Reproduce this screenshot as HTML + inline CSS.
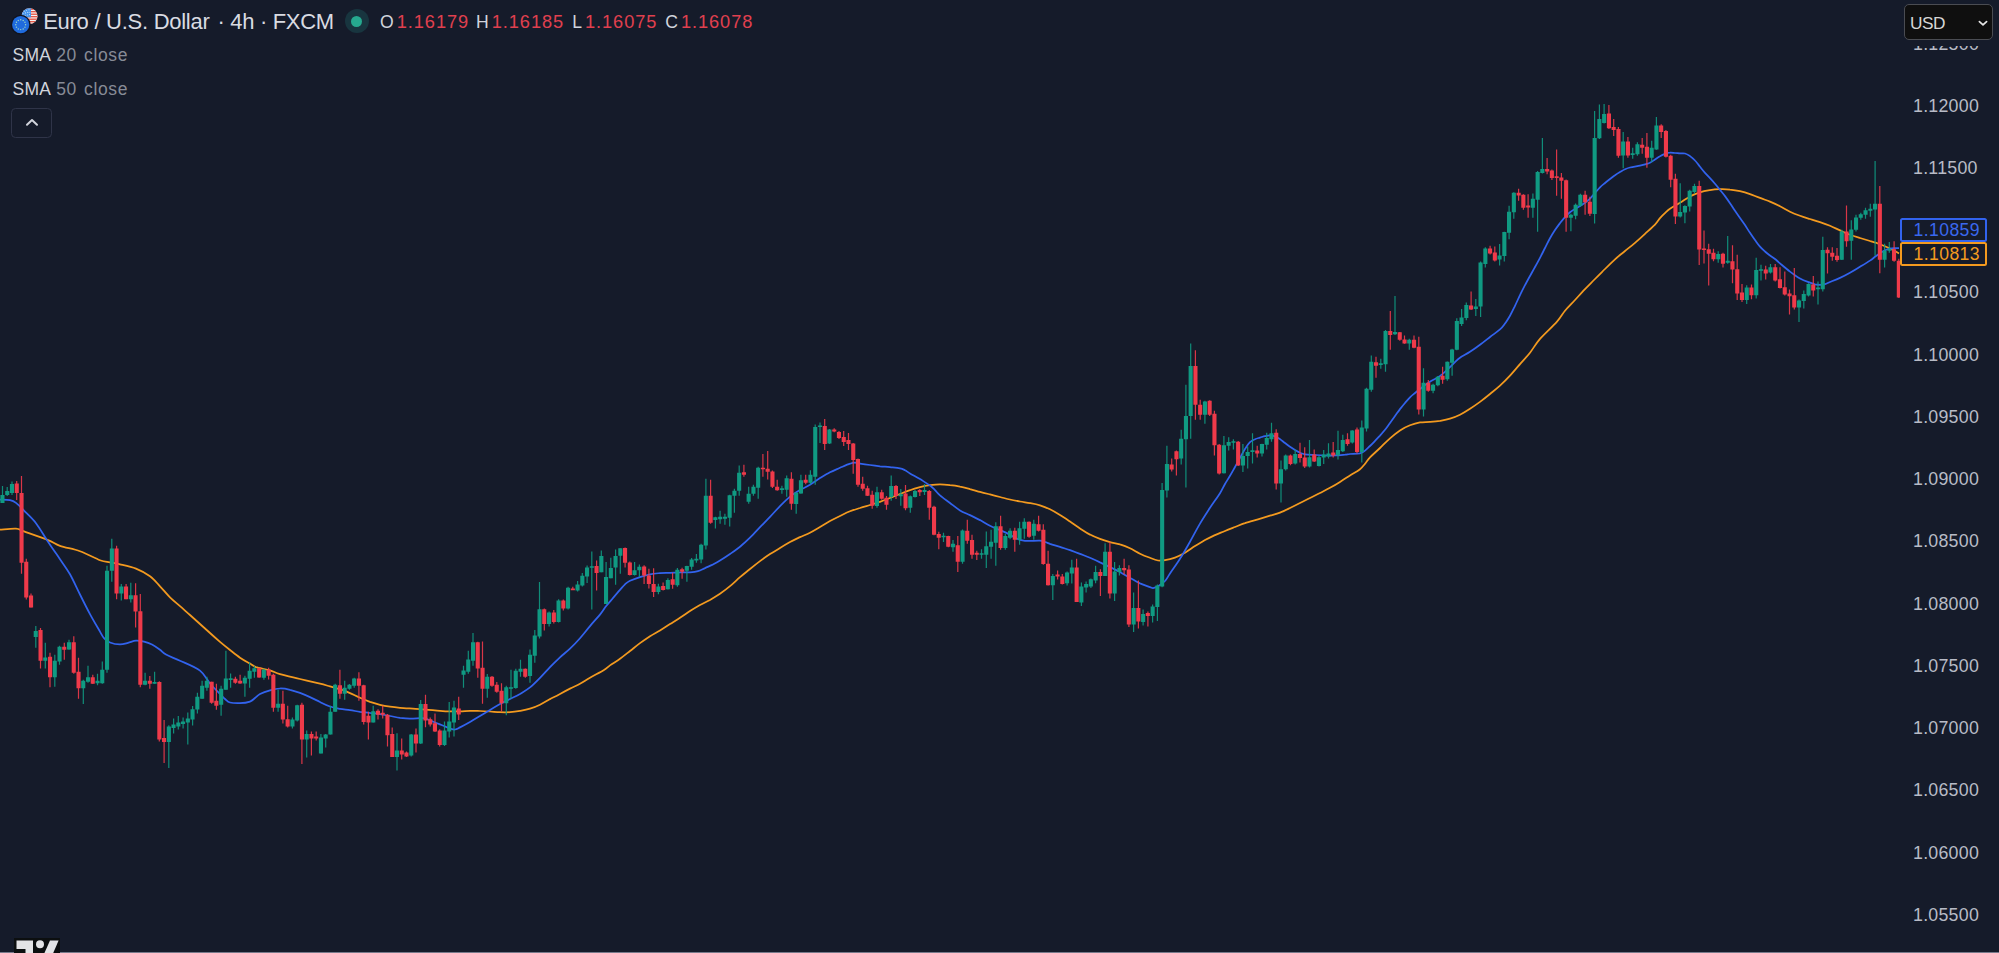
<!DOCTYPE html>
<html lang="en">
<head>
<meta charset="utf-8">
<title>Euro / U.S. Dollar · 4h · FXCM</title>
<style>
*{box-sizing:border-box;margin:0;padding:0}
html,body{width:1999px;height:953px;overflow:hidden;background:#151b2a}
body{position:relative;font-family:"Liberation Sans",Arial,sans-serif;color:#d1d4dc}
.chart{position:absolute;left:0;top:0}
.axis{position:absolute;left:1900px;top:45.6px;width:99px;height:908px;overflow:hidden}
.pl{position:absolute;left:1913px;height:24px;line-height:24px;font-size:17.8px;letter-spacing:.25px;color:#b8bbc6;white-space:nowrap}
.axis .pl{left:13px}
.tag{position:absolute;left:1900px;width:87px;height:24px;border:2px solid;border-radius:2.5px;background:#151b2a;font-size:17.6px;letter-spacing:.4px;line-height:21.4px;padding-left:11.6px;white-space:nowrap}
.tag.b{top:217.5px;border-color:#3263ee;color:#3a68ee}
.tag.o{top:242px;border-color:#f39a1f;color:#f39a1f}
.usd{position:absolute;left:1904px;top:4px;width:89px;height:36px;border:1.5px solid #4a4c52;border-radius:5px;background:#0f0f0f;color:#d6d6d6;font-size:17.3px;line-height:37.4px;padding-left:5px;letter-spacing:-.55px}
.usd svg{position:absolute;left:73px;top:14.7px}
.title{position:absolute;left:43.2px;top:8.6px;height:26px;line-height:26px;font-size:22px;color:#d9dbe2;white-space:nowrap;letter-spacing:-.27px}
.title span{margin-left:2.3px;letter-spacing:-.33px}
.ohlc{position:absolute;top:10px;height:24px;line-height:24px;font-size:18.2px;white-space:nowrap;letter-spacing:.95px;color:#e0404f}
.ohlc b{font-weight:normal;color:#d1d4dc;letter-spacing:3px;font-size:17.6px}
.lg{position:absolute;left:12.5px;height:24px;line-height:24px;font-size:17.5px;white-space:nowrap;color:#878b96;letter-spacing:.62px;word-spacing:1.6px}
.lg span{margin-left:-2px}
.lg b{font-weight:normal;color:#d1d4dc;letter-spacing:.25px;word-spacing:0}
.btn{position:absolute;left:11px;top:108px;width:40.5px;height:29.5px;border:1.5px solid #2f3448;border-radius:4.5px}
.btn svg{position:absolute;left:12.5px;top:8.5px}
.dot{position:absolute;left:344.8px;top:9px;width:24px;height:24px;border-radius:50%;background:#18353f}
.dot i{position:absolute;left:6.5px;top:6.5px;width:11px;height:11px;border-radius:50%;background:#26a98f}
.logo{z-index:3;position:absolute;left:14px;top:937.5px;width:46px;height:16px;background:#0c0f10}
.bline{position:absolute;left:0;top:951.5px;width:1999px;height:1.5px;background:#777a8b}
</style>
</head>
<body>
<svg class="chart" width="1900" height="953" viewBox="0 0 1900 953">
<path fill="none" stroke="#f39a1f" stroke-width="1.75" stroke-linejoin="round" d="M-3 530C-2.5 530 -3.2 529.9 0 529.7C3.2 529.5 12 528.3 16 528.6C20 528.9 18.7 529.4 24 531.4C29.3 533.3 42 537.7 48 540.1C54 542.5 54.7 544 60 545.8C65.3 547.7 73.3 548.8 80 551.2C86.7 553.6 95 558.3 100 560.2C105 562 106.7 561.6 110 562.3C113.3 563 115.7 563.2 120 564.3C124.3 565.3 131 566.6 136 568.6C141 570.6 146 573.3 150 576.3C154 579.2 156.7 582.8 160 586.3C163.3 589.8 166.7 594.1 170 597.4C173.3 600.7 176.7 603.2 180 606.1C183.3 609.1 186.7 612 190 615C193.3 618 196.7 621 200 624C203.3 627 206.7 630 210 633C213.3 636 216.7 639 220 641.9C223.3 644.7 226.7 647.4 230 650C233.3 652.6 236.7 655.4 240 657.7C243.3 660 247.3 662 250 663.5C252.7 665.1 252.7 665.9 256 667.1C259.3 668.2 266 669.2 270 670.4C274 671.6 275 672.8 280 674.2C285 675.6 293.3 677.4 300 679C306.7 680.6 315 682.4 320 683.6C325 684.8 326.7 685.5 330 686.4C333.3 687.4 336.7 688.1 340 689.2C343.3 690.3 346.7 691.7 350 693.1C353.3 694.6 356.7 696.4 360 697.8C363.3 699.3 366.7 700.7 370 701.9C373.3 703 376.7 704 380 704.8C383.3 705.6 386.7 706.2 390 706.7C393.3 707.2 395 707.4 400 707.8C405 708.2 413.3 708.6 420 709.1C426.7 709.6 435 710.4 440 710.8C445 711.2 446.7 711.3 450 711.4C453.3 711.5 456.7 711.5 460 711.4C463.3 711.3 466.7 710.9 470 710.8C473.3 710.7 476.7 710.9 480 711C483.3 711.1 486.7 711.3 490 711.5C493.3 711.7 496.7 712.1 500 712.2C503.3 712.4 506.7 712.4 510 712.2C513.3 712 516.7 711.5 520 710.9C523.3 710.3 526.7 709.7 530 708.7C533.3 707.7 536.7 706.3 540 704.7C543.3 703.1 546.7 700.9 550 699.1C553.3 697.4 556.7 695.7 560 693.9C563.3 692.1 566.7 690.3 570 688.6C573.3 686.9 576.7 685.6 580 683.8C583.3 682 586 680.1 590 677.8C594 675.5 600.7 672 604 670C607.3 667.9 607.3 667.3 610 665.4C612.7 663.5 616.7 661.2 620 658.8C623.3 656.4 626.7 653.6 630 651C633.3 648.4 636.7 645.6 640 643.1C643.3 640.7 646.7 638.4 650 636.2C653.3 634.1 656.7 632.4 660 630.4C663.3 628.3 666.7 626.2 670 624.1C673.3 622 676.7 620 680 617.8C683.3 615.7 686.7 613.3 690 611.1C693.3 609 696.7 607 700 605.1C703.3 603.3 706.7 601.7 710 599.9C713.3 598 716.7 596 720 593.8C723.3 591.5 726.7 589 730 586.2C733.3 583.4 736.7 580.1 740 577.2C743.3 574.4 746.7 571.7 750 569C753.3 566.3 756.7 563.6 760 561.1C763.3 558.7 766.7 556.3 770 554.1C773.3 552 776.7 550 780 548C783.3 546 786.7 544 790 542.1C793.3 540.3 796.7 538.7 800 537.1C803.3 535.6 806.7 534.4 810 532.7C813.3 531 816.7 528.9 820 527C823.3 525.1 826.7 523 830 521.1C833.3 519.3 836.7 517.6 840 516C843.3 514.4 846.7 512.6 850 511.3C853.3 510 856.7 509 860 508C863.3 506.9 866.7 506 870 505C873.3 504 876.7 503 880 501.8C883.3 500.7 886.7 499.3 890 498C893.3 496.7 896.7 495.3 900 494C903.3 492.7 906.7 491.3 910 490.2C913.3 489 916.7 488 920 487.1C923.3 486.3 926.7 485.6 930 485.1C933.3 484.7 936.7 484.3 940 484.3C943.3 484.3 946.7 484.7 950 485.1C953.3 485.4 956.7 485.9 960 486.6C963.3 487.2 966.7 488.2 970 489.1C973.3 489.9 976.7 491 980 491.9C983.3 492.8 986.7 493.6 990 494.4C993.3 495.3 996.7 496.2 1000 497C1003.3 497.8 1006.7 498.8 1010 499.5C1013.3 500.3 1016.7 500.9 1020 501.5C1023.3 502.1 1026.7 502.5 1030 503.1C1033.3 503.7 1036.7 504.3 1040 505.3C1043.3 506.3 1046.7 507.7 1050 509.3C1053.3 510.9 1056.7 513 1060 515.1C1063.3 517.1 1066.7 519.4 1070 521.6C1073.3 523.8 1076.7 526.2 1080 528.4C1083.3 530.5 1086.7 532.9 1090 534.6C1093.3 536.4 1096.7 537.7 1100 538.9C1103.3 540.2 1106.7 541.2 1110 542.1C1113.3 543 1116.7 543.3 1120 544.4C1123.3 545.4 1126.7 546.7 1130 548.3C1133.3 549.9 1136.7 552.1 1140 553.7C1143.3 555.3 1147 556.7 1150 557.8C1153 559 1155.5 560.1 1158 560.5C1160.5 560.8 1162.2 560.6 1165 560.1C1167.8 559.7 1171.7 558.8 1175 557.6C1178.3 556.4 1181.7 554.6 1185 552.7C1188.3 550.8 1191.7 548.2 1195 546.1C1198.3 544.1 1201.7 542 1205 540.1C1208.3 538.3 1211.7 536.7 1215 535.1C1218.3 533.6 1221.7 532.4 1225 531C1228.3 529.6 1231.7 528.3 1235 527C1238.3 525.7 1241.2 524.3 1245 523.1C1248.8 521.8 1253.8 520.6 1258 519.4C1262.2 518.2 1266.3 516.9 1270 515.7C1273.7 514.6 1276.7 513.9 1280 512.6C1283.3 511.3 1286.7 509.6 1290 508C1293.3 506.4 1296.7 504.7 1300 503C1303.3 501.3 1306.7 499.7 1310 498C1313.3 496.3 1316.7 494.7 1320 493C1323.3 491.3 1326.7 489.7 1330 487.8C1333.3 486 1336.7 484 1340 481.9C1343.3 479.9 1346.7 477.6 1350 475.5C1353.3 473.4 1357.5 471.2 1360 469.2C1362.5 467.3 1363.3 465.8 1365 463.8C1366.7 461.9 1367.5 460 1370 457.4C1372.5 454.8 1376.7 451.2 1380 448C1383.3 444.8 1386.7 441.2 1390 438.3C1393.3 435.4 1396.7 432.6 1400 430.4C1403.3 428.3 1406.7 426.6 1410 425.3C1413.3 424 1416.7 423 1420 422.4C1423.3 421.9 1426.7 422.1 1430 421.8C1433.3 421.6 1436.7 421.4 1440 420.9C1443.3 420.3 1446.7 419.7 1450 418.7C1453.3 417.7 1456.7 416.3 1460 414.7C1463.3 413.1 1466.7 411 1470 408.8C1473.3 406.7 1476.7 404.3 1480 401.9C1483.3 399.4 1486.7 396.7 1490 394C1493.3 391.3 1496.7 388.7 1500 385.7C1503.3 382.6 1506.7 379.3 1510 375.7C1513.3 372.1 1516.7 368 1520 364.1C1523.3 360.3 1526.7 356.9 1530 352.7C1533.3 348.5 1535.5 344.1 1540 338.9C1544.5 333.8 1552.8 326.4 1557 321.6C1561.2 316.9 1562 314.3 1565 310.7C1568 307.1 1571.7 303.6 1575 300C1578.3 296.4 1581.7 292.6 1585 289.1C1588.3 285.6 1591.7 282.4 1595 279C1598.3 275.6 1601.7 272.3 1605 269C1608.3 265.7 1611.7 262.3 1615 259.3C1618.3 256.3 1621.7 253.7 1625 251C1628.3 248.3 1631.7 245.7 1635 242.8C1638.3 240 1641.7 236.9 1645 233.8C1648.3 230.8 1652.5 227.2 1655 224.6C1657.5 222 1658.3 220.1 1660 218.1C1661.7 216.2 1663.3 214.7 1665 213.1C1666.7 211.6 1667.5 210.4 1670 208.7C1672.5 207 1676.7 204.9 1680 202.8C1683.3 200.8 1686.7 198.2 1690 196.4C1693.3 194.7 1696.7 193.3 1700 192.3C1703.3 191.2 1706.7 190.7 1710 190.2C1713.3 189.6 1716.7 189.3 1720 189.2C1723.3 189.1 1726.7 189.2 1730 189.6C1733.3 189.9 1736.7 190.4 1740 191.2C1743.3 192 1746.7 193 1750 194.1C1753.3 195.3 1756.7 196.7 1760 197.9C1763.3 199.2 1766.7 200.3 1770 201.6C1773.3 203 1776.7 204.5 1780 206.2C1783.3 207.9 1786.7 210.1 1790 211.7C1793.3 213.3 1796.7 214.6 1800 215.8C1803.3 217.1 1806.7 218 1810 219C1813.3 220 1816.7 221 1820 222.1C1823.3 223.2 1826.7 224.4 1830 225.8C1833.3 227.2 1836.7 228.9 1840 230.4C1843.3 231.9 1846.7 233.5 1850 234.8C1853.3 236 1856.7 237 1860 238C1863.3 239 1866.7 240 1870 241C1873.3 242 1876.7 243 1880 244.2C1883.3 245.5 1886.8 247 1890 248.5C1893.2 250 1897.5 252.6 1899 253.4"/>
<path fill="none" stroke="#3263ee" stroke-width="1.75" stroke-linejoin="round" d="M-3 499.5C-2.5 499.5 -2.2 499.5 0 499.6C2.2 499.7 7.3 499.7 10 500.2C12.7 500.8 13.7 501.2 16 502.9C18.3 504.6 20.7 507.2 24 510.6C27.3 514 32 518 36 523.2C40 528.4 44 535.7 48 541.7C52 547.7 56.3 553.8 60 559.2C63.7 564.7 66.7 568.5 70 574.3C73.3 580.2 76.7 587.9 80 594.5C83.3 601.2 86.7 608 90 614.1C93.3 620.3 97.7 627.6 100 631.6C102.3 635.6 102.3 636.3 104 638.1C105.7 640 107.3 641.5 110 642.5C112.7 643.6 117 644.4 120 644.4C123 644.4 125.3 643.5 128 642.8C130.7 642.2 133.3 640.9 136 640.7C138.7 640.5 141.3 641 144 641.6C146.7 642.3 149.3 643.2 152 644.5C154.7 645.9 157.7 648.1 160 649.8C162.3 651.5 162.7 652.8 166 654.6C169.3 656.5 174.3 658 180 660.7C185.7 663.3 195 666.8 200 670.6C205 674.4 206.7 679.7 210 683.5C213.3 687.4 217.5 691.4 220 693.9C222.5 696.5 223.3 697.6 225 699C226.7 700.4 227.5 701.8 230 702.5C232.5 703.2 236.7 703.3 240 703.2C243.3 703.1 247.5 702.5 250 701.6C252.5 700.8 253.3 699.3 255 698C256.7 696.7 257.5 695.3 260 694C262.5 692.7 266.7 691.2 270 690.3C273.3 689.4 276.7 688.6 280 688.5C283.3 688.4 286.7 689 290 689.8C293.3 690.5 296.7 691.7 300 692.9C303.3 694.2 306.7 695.6 310 697.1C313.3 698.6 316.7 700.4 320 702C323.3 703.6 326.7 705.4 330 706.5C333.3 707.7 336.7 708.2 340 708.8C343.3 709.4 346.7 709.6 350 710.1C353.3 710.6 356.7 711.4 360 711.9C363.3 712.3 366.7 712.6 370 713C373.3 713.4 376.7 713.6 380 714.1C383.3 714.6 386.7 715.4 390 716C393.3 716.6 396.7 717.4 400 717.9C403.3 718.3 406.7 718.7 410 718.7C413.3 718.8 417.5 718.2 420 718.1C422.5 718.1 423.3 717.9 425 718.3C426.7 718.7 427.5 719.3 430 720.4C432.5 721.4 436.7 723.1 440 724.4C443.3 725.8 447.5 727.6 450 728.5C452.5 729.3 453.3 729.7 455 729.5C456.7 729.4 457.5 728.7 460 727.4C462.5 726.1 466.7 723.9 470 722C473.3 720.1 476.7 718 480 716C483.3 714 486.7 712 490 710C493.3 708 496.7 706 500 704.1C503.3 702.3 506.7 700.7 510 699C513.3 697.3 516.7 695.8 520 693.9C523.3 691.9 526.7 690.1 530 687.4C533.3 684.7 536.7 681.2 540 677.8C543.3 674.5 546.7 670.6 550 667.1C553.3 663.7 556.7 660.4 560 657.3C563.3 654.2 566.7 651.8 570 648.6C573.3 645.4 576.7 642 580 638.2C583.3 634.4 586.7 630 590 626.1C593.3 622.1 597.3 617.9 600 614.6C602.7 611.3 604 608.9 606 606.3C608 603.7 609.7 602 612 599.2C614.3 596.5 617.8 592.4 620 589.9C622.2 587.4 623.3 585.8 625 584.3C626.7 582.8 627.5 582 630 580.8C632.5 579.7 636.7 578.2 640 577.1C643.3 576.1 646.7 575 650 574.3C653.3 573.6 656.7 573.4 660 573.1C663.3 572.9 666.7 573 670 572.9C673.3 572.8 676.7 572.6 680 572.5C683.3 572.4 687 572.5 690 572.3C693 572.1 695.5 571.9 698 571.2C700.5 570.5 702.7 569.1 705 568.1C707.3 567 709.5 566.1 712 564.9C714.5 563.6 717 562.4 720 560.5C723 558.7 726.7 556.3 730 554C733.3 551.7 736.7 549.4 740 546.7C743.3 544 746.7 541 750 537.7C753.3 534.4 756.7 530.6 760 527.1C763.3 523.7 766.7 520.4 770 516.9C773.3 513.4 776.7 509.5 780 506.1C783.3 502.8 786.7 499.3 790 496.6C793.3 493.9 796.7 492.1 800 490.1C803.3 488.2 806.7 486.7 810 484.7C813.3 482.7 816.7 480.2 820 478.1C823.3 476.1 826.7 474 830 472.3C833.3 470.6 836.7 469.3 840 467.8C843.3 466.4 847.5 464.5 850 463.7C852.5 462.8 853.3 462.7 855 462.7C856.7 462.7 857.5 463.2 860 463.6C862.5 464 866.7 464.6 870 465C873.3 465.4 876.7 465.9 880 466.3C883.3 466.6 886.7 466.8 890 467.1C893.3 467.5 897.5 467.9 900 468.4C902.5 468.9 903.3 469.4 905 470.2C906.7 471 907.5 472 910 473.4C912.5 474.9 916.7 477.1 920 479.1C923.3 481.2 927.5 483.7 930 485.5C932.5 487.4 933.3 488.5 935 490.1C936.7 491.8 937.5 493.3 940 495.4C942.5 497.6 946.7 500.5 950 503C953.3 505.5 956.7 508.4 960 510.4C963.3 512.4 966.7 513.5 970 515.1C973.3 516.8 976.7 518.4 980 520.1C983.3 521.9 986.7 524 990 525.7C993.3 527.4 996.7 528.6 1000 530.1C1003.3 531.6 1007.5 533.4 1010 534.7C1012.5 536 1013.3 537 1015 537.8C1016.7 538.7 1018.3 539.4 1020 539.9C1021.7 540.4 1023.3 540.7 1025 540.9C1026.7 541 1027.5 540.9 1030 540.9C1032.5 540.9 1037.5 540.5 1040 540.7C1042.5 540.9 1043.3 541.5 1045 542C1046.7 542.5 1047.5 543 1050 543.9C1052.5 544.7 1056.7 545.9 1060 546.9C1063.3 548 1066.7 549 1070 550.1C1073.3 551.3 1076.7 552.7 1080 553.9C1083.3 555.2 1086.7 556.4 1090 557.8C1093.3 559.2 1096.7 560.8 1100 562.4C1103.3 563.9 1106.7 565.4 1110 567.1C1113.3 568.7 1116.7 570.3 1120 572.1C1123.3 574 1126.7 576.1 1130 577.9C1133.3 579.8 1136.7 581.8 1140 583.4C1143.3 584.9 1147.8 586.3 1150 587.1C1152.2 587.9 1151.7 588.2 1153 588.1C1154.3 587.9 1156 587.5 1158 586.3C1160 585.1 1163 583.1 1165 581C1167 578.9 1167.5 577.2 1170 573.5C1172.5 569.8 1176.7 564.1 1180 558.8C1183.3 553.5 1186.7 547.6 1190 541.7C1193.3 535.8 1196.7 529.2 1200 523.6C1203.3 518 1206.7 512.9 1210 507.8C1213.3 502.8 1217.5 497.2 1220 493.2C1222.5 489.2 1223.3 486.9 1225 484C1226.7 481.1 1228.3 478.7 1230 475.8C1231.7 473 1233.3 470 1235 467C1236.7 464 1238.3 460.9 1240 457.9C1241.7 454.9 1243.3 451.5 1245 448.9C1246.7 446.2 1248.3 443.8 1250 442.2C1251.7 440.6 1253.3 439.9 1255 439.2C1256.7 438.4 1258.3 438.1 1260 437.6C1261.7 437.1 1263.3 436.5 1265 436.1C1266.7 435.7 1268.3 435.3 1270 435.3C1271.7 435.3 1273.3 435.7 1275 436.3C1276.7 436.9 1278.3 438 1280 439.1C1281.7 440.3 1283.3 441.7 1285 443C1286.7 444.3 1288.3 445.7 1290 446.8C1291.7 448 1293.3 449 1295 450C1296.7 451 1298.3 452 1300 452.8C1301.7 453.5 1302.5 453.9 1305 454.3C1307.5 454.7 1311.7 454.8 1315 455C1318.3 455.2 1321.7 455.4 1325 455.5C1328.3 455.6 1331.7 455.6 1335 455.4C1338.3 455.3 1342.5 454.9 1345 454.7C1347.5 454.4 1347.5 454.3 1350 454C1352.5 453.8 1357.5 453.8 1360 453.3C1362.5 452.7 1363.3 451.9 1365 450.6C1366.7 449.4 1368.3 447.6 1370 446C1371.7 444.4 1373.3 442.7 1375 440.9C1376.7 439.2 1378.3 437.4 1380 435.6C1381.7 433.7 1383.3 431.9 1385 429.8C1386.7 427.7 1388.3 425.3 1390 423C1391.7 420.7 1393.3 418.3 1395 416C1396.7 413.7 1398.3 411.3 1400 409.1C1401.7 407 1403.3 405 1405 403C1406.7 401 1408.3 399 1410 397.3C1411.7 395.6 1413.3 394.4 1415 393C1416.7 391.6 1418.3 390.3 1420 389C1421.7 387.7 1423.3 386.3 1425 385.1C1426.7 383.9 1428.3 382.7 1430 381.7C1431.7 380.7 1433.3 379.9 1435 378.9C1436.7 378 1438.3 377 1440 375.9C1441.7 374.7 1443.3 373.3 1445 371.8C1446.7 370.4 1448.3 368.6 1450 367C1451.7 365.4 1453.3 363.7 1455 362.1C1456.7 360.6 1457.5 359.4 1460 357.7C1462.5 356 1466.7 354 1470 351.8C1473.3 349.7 1476.7 347.3 1480 344.8C1483.3 342.4 1486.7 339.6 1490 337C1493.3 334.4 1497.5 331.7 1500 329.4C1502.5 327.2 1503.3 325.8 1505 323.5C1506.7 321.3 1508.3 318.6 1510 315.7C1511.7 312.8 1513.3 309.3 1515 305.8C1516.7 302.4 1518.3 298.6 1520 295.1C1521.7 291.7 1523.3 288.3 1525 285.1C1526.7 282 1528.3 279 1530 276C1531.7 273 1533.3 270 1535 267C1536.7 264 1538.3 261 1540 257.8C1541.7 254.7 1543.3 251.3 1545 248C1546.7 244.7 1548.3 241.3 1550 238.3C1551.7 235.3 1553.3 232.7 1555 230.1C1556.7 227.6 1558.3 225.3 1560 223.1C1561.7 221 1563.3 219 1565 217.1C1566.7 215.3 1568.3 213.7 1570 212.3C1571.7 210.9 1573.3 210 1575 209C1576.7 207.9 1578.3 207 1580 206C1581.7 205 1583.3 204.1 1585 202.8C1586.7 201.6 1588.3 200.3 1590 198.7C1591.7 197.1 1593.3 194.9 1595 193C1596.7 191.1 1598.3 189 1600 187.3C1601.7 185.6 1603.3 184.4 1605 183C1606.7 181.6 1608.3 180.3 1610 179C1611.7 177.7 1613.3 176.3 1615 175.2C1616.7 174 1618.3 173 1620 172C1621.7 171 1623.3 170 1625 169.2C1626.7 168.5 1627.5 168.1 1630 167.5C1632.5 166.9 1637.5 166.2 1640 165.7C1642.5 165.2 1643.3 164.9 1645 164.4C1646.7 163.9 1648.3 163.5 1650 162.7C1651.7 161.9 1653.3 160.6 1655 159.5C1656.7 158.4 1658.3 157.1 1660 156.2C1661.7 155.2 1663.3 154.4 1665 153.8C1666.7 153.2 1668.3 152.8 1670 152.7C1671.7 152.5 1673.3 152.9 1675 153C1676.7 153.1 1678.3 153.3 1680 153.4C1681.7 153.5 1683.3 153.1 1685 153.5C1686.7 154 1688.3 155 1690 156.1C1691.7 157.3 1693.3 158.7 1695 160.5C1696.7 162.2 1698.3 164.8 1700 166.8C1701.7 168.9 1703.3 171 1705 172.8C1706.7 174.7 1708.3 176.3 1710 178.1C1711.7 179.9 1713.3 181.7 1715 183.7C1716.7 185.7 1718.3 187.9 1720 189.9C1721.7 192 1723.3 193.9 1725 196.1C1726.7 198.4 1728.3 200.7 1730 203.2C1731.7 205.6 1733.3 208.4 1735 210.8C1736.7 213.3 1738.3 215.6 1740 218C1741.7 220.4 1743.3 222.7 1745 225.1C1746.7 227.6 1748.3 230.4 1750 232.8C1751.7 235.3 1753.3 237.7 1755 240C1756.7 242.3 1758.3 244.7 1760 246.6C1761.7 248.6 1763.3 250 1765 251.5C1766.7 253 1768.3 254.3 1770 255.5C1771.7 256.8 1773.3 257.7 1775 259C1776.7 260.3 1777.5 261.3 1780 263.4C1782.5 265.5 1786.7 269.1 1790 271.6C1793.3 274.1 1796.7 276.7 1800 278.5C1803.3 280.4 1807.5 281.7 1810 282.6C1812.5 283.6 1813.3 283.9 1815 284.3C1816.7 284.6 1818.3 284.8 1820 284.8C1821.7 284.8 1823.3 284.7 1825 284.2C1826.7 283.7 1827.5 283.1 1830 282C1832.5 281 1836.7 279.4 1840 277.9C1843.3 276.4 1846.7 274.7 1850 272.8C1853.3 271 1856.7 268.9 1860 266.8C1863.3 264.8 1867.5 262.3 1870 260.6C1872.5 258.9 1873.3 258.1 1875 256.8C1876.7 255.6 1878.3 254.3 1880 253.1C1881.7 252 1883.3 251 1885 250.2C1886.7 249.4 1888.3 248.9 1890 248.6C1891.7 248.2 1893.5 248.2 1895 248.1C1896.5 248 1898.3 248 1899 248"/>
<g fill="none" stroke-width="1.2" stroke-opacity=".9">
<path stroke="#109a82" d="M2.5 486V503M7.2 487V496M12 481.5V495M35.8 625.9V647.8M45.3 642.8V668.4M54.8 654.8V686.7M59.5 645.8V664.8M69 639.8V649.8M83.3 679.7V704M88 665.8V682.7M97.5 673.7V685.3M102.3 661.4V683.7M107 565.7V672.8M111.8 538.8V581.7M121.3 584V600.6M130.8 582.7V602.6M145.1 672.8V685.3M154.6 671.8V683.7M168.8 725.2V767.9M173.6 718.6V733.6M178.3 716V729.6M183.1 717.6V728.6M187.8 712.6V744.5M192.6 706V725.6M197.4 692.7V713.6M202.1 680.8V698.7M206.9 676.8V690.7M221.1 685.7V715.7M225.9 650.8V689.7M230.6 673.4V687.7M244.9 675.8V696.7M249.6 662.2V687.7M254.4 665.8V677.8M263.9 668.8V679.8M278.1 689.7V711.7M292.4 717.6V728.6M297.2 704.7V721.6M306.7 730.6V757.5M320.9 734V753.5M325.7 734V747.6M330.4 705.7V734.6M335.2 683.7V711.7M344.7 680.8V699.7M349.4 684V689.7M354.2 677.8V687.7M373.2 705.7V722.6M397 733.2V770.5M411.2 734V756.5M420.7 700V744M444.5 721.6V746M449.2 702V737.6M454 700.7V736.6M463.5 665.8V687.7M468.3 650.8V673.7M473 632.9V665.8M487.3 674V697.7M506.3 685.7V715.2M511 669.8V698.7M515.8 668.8V688.7M520.5 659.8V676.7M530 649.4V682.7M534.8 629.9V662.8M539.5 582V638.5M549.1 611.6V626.6M558.6 599.2V622.6M568.1 586.7V609.6M577.6 581V591.5M582.3 573V586.4M587.1 565.6V582.9M591.8 551.4V609.6M601.3 550.6V572.3M606.1 562V604.1M610.8 557.7V578.2M615.6 549.4V584.8M620.3 548.3V573.8M634.6 562V575.4M639.4 564.4V577M658.4 583.7V594.3M667.9 578.2V589.6M677.4 568V586.7M686.9 565.7V581.7M691.6 558V569.7M696.4 554V562.7M701.1 543.8V563.3M705.9 478.8V549.6M715.4 516.7V528.6M720.1 510.7V523.7M724.9 513.7V524.7M729.7 494.7V526.6M734.4 488.8V512.7M739.2 465.4V495.7M748.7 486.8V503.7M753.4 484.8V495.7M758.2 466.8V498.7M781.9 485.8V493.7M786.7 475.4V496.7M796.2 492.2V513.7M800.9 474.8V493.7M810.4 470.2V484.2M815.2 424.4V484.8M820 422.4V443M829.5 429V444M877 486.8V507.7M891.2 475.5V500.8M900.8 488.9V505.8M910.3 495.5V512.8M915 489.9V497.5M924.5 483.9V494.9M943.5 532.8V542.1M953 540.1V551.7M962.5 529.4V563.7M981.5 549.3V558.7M986.3 531.4V568M991.1 529.8V558.7M995.8 522.2V565.7M1005.3 533.7V549.7M1010.1 528.2V539.3M1019.6 521.8V544.7M1024.3 518.2V538.7M1033.8 519.8V539.7M1052.8 574V600M1067.1 571.6V585.6M1071.8 559.7V583.6M1081.4 582.6V606M1086.1 581.6V592.6M1090.9 578.6V588M1095.6 565.7V583.2M1105.1 543.3V576M1114.6 562V601M1119.4 565.3V575.6M1133.6 592.6V631.9M1143.1 609.5V625.5M1152.6 604.5V622.5M1157.4 584.6V621M1162.1 482.9V587.2M1166.9 445.7V497.5M1181.2 429.7V464.6M1185.9 384.8V487.5M1190.7 343.6V438.7M1204.9 400.8V423.7M1223.9 436V473.6M1228.7 437.3V450.6M1233.4 439.3V449.6M1242.9 444V472M1247.7 446.6V468.6M1252.5 433.3V463.6M1262 443.7V456.6M1266.7 432.7V449.6M1271.5 422.7V441.7M1281 460.6V502.5M1285.7 454.6V470.6M1295.2 449.6V464.6M1309.5 440V467.6M1319 456V466.6M1323.7 450V464M1328.5 443.3V458.6M1338 430.7V459.6M1342.8 434.7V452M1352.3 430.2V443.5M1361.8 420.6V462.5M1366.5 387.7V431.6M1371.3 355.4V391.7M1380.8 358.8V368.8M1385.5 329.9V371.8M1395 296V334.9M1409.3 338.8V349.8M1423.5 368.2V416.6M1433.1 383.7V393.3M1437.8 376V386.3M1447.3 361.4V380.7M1452.1 348.8V375.7M1456.8 318.3V350.2M1461.6 308.9V325.9M1466.3 302.4V320.3M1475.8 299V315.9M1480.6 261.6V317M1485.3 247.2V267.6M1499.6 244V265.6M1504.3 231.7V261.6M1509.1 205.8V239.3M1513.8 192.2V218.7M1532.9 193.4V217.7M1537.6 170.9V231.7M1542.4 138V173.5M1570.9 213.7V231.3M1575.6 203.4V219.3M1580.4 193.8V206.8M1594.6 111V223.6M1599.4 104.4V138.9M1604.1 104V123.5M1623.2 131.9V168.2M1632.7 147.8V158.8M1637.4 142.2V155.8M1651.7 140.8V162.2M1656.4 116.9V149.8M1680.2 183.3V217.6M1684.9 205.3V223.2M1689.7 189.7V211.6M1694.5 183.7V193.7M1718.2 251.3V262.7M1727.7 236V263.7M1746.7 285.2V304M1756.2 257.7V298.6M1761 264.7V280.6M1770.5 264V273.6M1799 299.6V321.9M1803.8 290.6V308.5M1808.5 283.2V296.6M1818 281.6V304.5M1822.8 236.7V291.6M1841.8 229.8V260M1851.3 220.2V259.7M1856 214.8V231.4M1860.8 212.8V219.8M1865.5 207.8V218.8M1870.3 203.8V216.8M1875.1 161V255.7M1884.6 243.7V267.6M1889.3 242V252.7"/>
<path stroke="#ef3a4a" d="M16.7 481V500M21.5 476V573.7M26.3 558.7V599.6M31 593.6V607.6M40.5 627.9V668.4M50 652.8V687.3M64.3 642.8V659.8M73.8 636.3V673.7M78.5 657.8V698.7M92.8 674.7V684M116.6 545.8V599.2M126.1 584V599.2M135.6 583.3V627.5M140.3 594V687.3M149.8 676V688.7M159.3 681.3V741.5M164.1 720V763M211.6 681.8V703.7M216.4 683.7V709.7M235.4 676.8V683.7M240.1 674.8V683.7M259.1 667.8V677.8M268.6 667.8V679.4M273.4 673.8V711.7M282.9 690.7V723.6M287.7 705.7V727.6M301.9 702.7V763.9M311.4 731.6V755.5M316.2 731.6V740.6M339.9 669.8V698.7M358.9 672.2V700.7M363.7 684.7V724.6M368.4 711.7V739.6M378 709.3V719.6M382.7 705.7V718.6M387.5 714V746.6M392.2 727.6V757M401.7 738.6V759.5M406.5 751.5V757M416 728.6V752.5M425.5 694.7V727.2M430.2 717.6V726.6M435 713.6V732M439.7 729.2V746.5M458.7 696.7V720M477.8 641.8V677.7M482.5 641.4V703.7M492 676V686.7M496.8 682V692.7M501.5 683.3V711.6M525.3 668.4V677.7M544.3 608.6V630.5M553.8 610V623.6M563.3 599.6V610.6M572.8 586.7V590M596.6 560.5V590.4M625.1 547.5V567.5M629.8 561.6V575.4M644.1 565.2V584M648.9 568.7V588.4M653.6 568.3V597M663.1 582.5V590.4M672.6 572.7V588.7M682.1 567.7V578.7M710.6 479.8V523.7M743.9 464.8V476.8M762.9 453.9V476.8M767.7 450.9V479.4M772.4 470.4V488M777.2 479.8V490.8M791.4 472.2V509.7M805.7 474.8V484.2M824.7 419V450M834.2 428.3V432.3M839 431V439M843.7 431V446M848.5 433V450M853.2 443V473.8M858 458.5V486.8M862.7 476.8V490.8M867.5 485.8V496M872.2 490.8V508.7M881.7 489.8V499.7M886.5 496V509.7M896 484.9V498.9M905.5 484.9V510.2M919.8 488.9V495.9M929.3 489.9V519.8M934 505.8V535.3M938.8 531.8V549.3M948.3 535.7V547.3M957.8 536.1V572M967.3 519.8V543.7M972 534.7V558.7M976.8 550.7V560M1000.6 515.8V549.7M1014.8 527.8V551.7M1029.1 521.4V537.7M1038.6 515.8V531.4M1043.3 524.2V564.7M1048.1 550.7V585.6M1057.6 570.6V579.6M1062.3 574V584.6M1076.6 558.7V602M1100.4 569.2V596M1109.9 542.1V598.6M1124.1 558.7V574.6M1128.9 565.3V627M1138.4 580.6V628.5M1147.9 611.5V626.5M1171.7 458.6V471.6M1176.4 450.6V475.6M1195.4 350.3V419.7M1200.2 399.8V419.7M1209.7 400.2V416M1214.4 410.8V455.6M1219.2 444V474.6M1238.2 441V466M1257.2 445.7V457.6M1276.2 429.3V489.5M1290.5 454.6V465.2M1300 442.7V462.6M1304.7 447.2V468M1314.2 449.6V462M1333.2 442V457.6M1347.5 433.3V445.7M1357 427.6V453.5M1376 356.8V377.7M1390.3 310.9V349.8M1399.8 331.9V340.8M1404.5 335.5V343.8M1414 335.5V348.2M1418.8 336.8V414.6M1428.3 380.1V391.7M1442.6 366.8V383.7M1471.1 291.6V309.9M1490.1 245.7V254.6M1494.8 246.6V261.6M1518.6 188.8V200.8M1523.4 194.2V209.8M1528.1 194.2V217.7M1547.1 157.9V174.3M1551.9 169.5V179.9M1556.6 149.5V195.8M1561.4 172.9V198.8M1566.1 179.5V231.7M1585.1 190.8V214.7M1589.9 196.8V216M1608.9 105V128.9M1613.7 118.9V135.9M1618.4 126.9V157.8M1627.9 136.9V157.8M1642.2 137.9V153.8M1646.9 132.9V167.8M1661.2 124.3V137.9M1665.9 129.9V157.4M1670.7 154.8V187.3M1675.4 173.7V224M1699.2 180.7V265M1704 230.6V263.5M1708.7 243.7V285.6M1713.5 248.7V261.3M1723 252.7V267.6M1732.5 245.3V283.2M1737.2 254.7V300M1742 284V302M1751.5 284.6V299.2M1765.7 265.7V279.6M1775.2 264V281.6M1780 267.2V288.6M1784.8 271.6V295.6M1789.5 289.6V314.5M1794.3 268V309.5M1813.3 276V296.6M1827.5 247.3V273.6M1832.3 247.3V260.7M1837 248V261.7M1846.5 205.4V246.7M1879.8 185.9V273.2M1894.1 241.3V261.7M1898.8 258.7V298"/>
</g>
<path fill="#109a82" d="M0.4 495h4.1v8h-4.1zM5.2 491h4.1v4h-4.1zM9.9 484h4.1v9h-4.1zM33.7 630.9h4.1v6h-4.1zM43.2 657.4h4.1v3.4h-4.1zM52.7 660.8h4.1v16.5h-4.1zM57.5 646.8h4.1v14.6h-4.1zM67 642.2h4.1v7.2h-4.1zM81.2 680.7h4.1v7.6h-4.1zM86 677.3h4.1v4.4h-4.1zM95.5 680.7h4.1v2.6h-4.1zM100.2 669.8h4.1v13.5h-4.1zM105 570.7h4.1v99.1h-4.1zM109.8 548.4h4.1v22.3h-4.1zM119.3 586.6h4.1v7h-4.1zM128.8 595.2h4.1v4h-4.1zM143 680.7h4.1v4h-4.1zM152.5 682h4.1v1.7h-4.1zM166.8 726.6h4.1v15.4h-4.1zM171.5 724.6h4.1v3.4h-4.1zM176.3 722.6h4.1v4h-4.1zM181 721.6h4.1v2.4h-4.1zM185.8 718.6h4.1v4h-4.1zM190.5 709.2h4.1v10.4h-4.1zM195.3 696.7h4.1v12.9h-4.1zM200.1 685.7h4.1v13h-4.1zM204.8 680.8h4.1v6.9h-4.1zM219.1 688.7h4.1v16h-4.1zM223.8 678.4h4.1v11.3h-4.1zM228.6 678.3h4.1v1.6h-4.1zM242.8 677.8h4.1v5.6h-4.1zM247.6 670.8h4.1v8h-4.1zM252.3 668.2h4.1v3.6h-4.1zM261.8 669.8h4.1v8h-4.1zM276.1 703.7h4.1v4h-4.1zM290.4 719.6h4.1v7h-4.1zM295.1 705.3h4.1v15.3h-4.1zM304.6 734h4.1v5.6h-4.1zM318.9 737.6h4.1v15.9h-4.1zM323.6 734.6h4.1v4h-4.1zM328.4 711.7h4.1v22.9h-4.1zM333.1 684.7h4.1v27h-4.1zM342.6 687.7h4.1v6h-4.1zM347.4 684.7h4.1v4h-4.1zM352.1 678.4h4.1v7.3h-4.1zM371.2 711.3h4.1v11.3h-4.1zM394.9 750.5h4.1v6.5h-4.1zM409.2 734.6h4.1v20.9h-4.1zM418.7 704h4.1v39.5h-4.1zM442.4 730.6h4.1v14.4h-4.1zM447.2 721.6h4.1v10h-4.1zM451.9 707.6h4.1v15h-4.1zM461.5 670.4h4.1v4.3h-4.1zM466.2 659.4h4.1v12.4h-4.1zM471 642.2h4.1v18.6h-4.1zM485.2 676.7h4.1v12h-4.1zM504.2 687.3h4.1v16h-4.1zM509 687.2h4.1v1.6h-4.1zM513.7 670.8h4.1v17.2h-4.1zM518.5 668.8h4.1v3h-4.1zM528 654.8h4.1v21.2h-4.1zM532.7 635.5h4.1v20.3h-4.1zM537.5 609.2h4.1v27.3h-4.1zM547 612.6h4.1v11.4h-4.1zM556.5 600.6h4.1v21.4h-4.1zM566 587.7h4.1v20.9h-4.1zM575.5 584.5h4.1v5.9h-4.1zM580.3 575.8h4.1v9.8h-4.1zM585 567.5h4.1v9.1h-4.1zM589.8 566.2h4.1v1.6h-4.1zM599.3 556.1h4.1v16.2h-4.1zM604 577h4.1v27.1h-4.1zM608.8 568h4.1v10.2h-4.1zM613.5 556.1h4.1v11.4h-4.1zM618.3 548.3h4.1v7.4h-4.1zM632.5 570.3h4.1v4.7h-4.1zM637.3 566.8h4.1v3.5h-4.1zM656.3 586.4h4.1v5.6h-4.1zM665.8 580.1h4.1v9.1h-4.1zM675.3 569.7h4.1v15.6h-4.1zM684.8 566h4.1v4.7h-4.1zM689.6 559.4h4.1v7.3h-4.1zM694.3 558.8h4.1v1.6h-4.1zM699.1 544.8h4.1v14.6h-4.1zM703.8 495.7h4.1v49.9h-4.1zM713.3 517.3h4.1v2.7h-4.1zM718.1 516.7h4.1v2.6h-4.1zM722.9 516.7h4.1v2h-4.1zM727.6 495.3h4.1v22.4h-4.1zM732.4 490.8h4.1v4.9h-4.1zM737.1 472.8h4.1v18h-4.1zM746.6 493.7h4.1v8h-4.1zM751.4 486.8h4.1v6.9h-4.1zM756.1 467.8h4.1v20h-4.1zM779.9 488.3h4.1v1.6h-4.1zM784.6 478.2h4.1v11.6h-4.1zM794.1 492.8h4.1v11.2h-4.1zM798.9 480.2h4.1v13.2h-4.1zM808.4 474.8h4.1v8h-4.1zM813.2 427h4.1v49.8h-4.1zM817.9 425.4h4.1v1.6h-4.1zM827.4 429.5h4.1v14h-4.1zM874.9 492.2h4.1v13.8h-4.1zM889.2 485.9h4.1v11.1h-4.1zM898.7 494.3h4.1v2h-4.1zM908.2 496.3h4.1v11.5h-4.1zM913 490.9h4.1v6h-4.1zM922.5 489.9h4.1v2h-4.1zM941.5 535.7h4.1v1.6h-4.1zM951 543.7h4.1v3.6h-4.1zM960.5 530.4h4.1v31.3h-4.1zM979.5 553.2h4.1v1.6h-4.1zM984.2 546.3h4.1v8.4h-4.1zM989 541.7h4.1v5h-4.1zM993.8 526.2h4.1v16.5h-4.1zM1003.3 536.1h4.1v12h-4.1zM1008 530.8h4.1v6.9h-4.1zM1017.5 528.2h4.1v11.5h-4.1zM1022.3 521.8h4.1v7h-4.1zM1031.8 523.8h4.1v11.9h-4.1zM1050.8 576h4.1v9.2h-4.1zM1065 572.6h4.1v10.6h-4.1zM1069.8 567.6h4.1v6h-4.1zM1079.3 586.6h4.1v15.9h-4.1zM1084.1 584h4.1v3.6h-4.1zM1088.8 579.2h4.1v7.4h-4.1zM1093.6 572h4.1v8.6h-4.1zM1103.1 551.7h4.1v24.3h-4.1zM1112.6 571.6h4.1v22h-4.1zM1117.3 568h4.1v4h-4.1zM1131.6 608h4.1v16.5h-4.1zM1141.1 614h4.1v8h-4.1zM1150.6 606.5h4.1v9.5h-4.1zM1155.3 585.6h4.1v21.4h-4.1zM1160.1 489.9h4.1v96.7h-4.1zM1164.9 464h4.1v26.5h-4.1zM1179.1 438.7h4.1v19.9h-4.1zM1183.9 416h4.1v23.3h-4.1zM1188.6 365.9h4.1v50.1h-4.1zM1202.9 401.4h4.1v13.3h-4.1zM1221.9 445.3h4.1v27.9h-4.1zM1226.6 442h4.1v3.7h-4.1zM1231.4 441.2h4.1v1.6h-4.1zM1240.9 456h4.1v9.6h-4.1zM1245.6 452h4.1v4h-4.1zM1250.4 450.2h4.1v1.8h-4.1zM1259.9 444h4.1v9.6h-4.1zM1264.7 438h4.1v6.7h-4.1zM1269.4 433.3h4.1v6h-4.1zM1278.9 469.2h4.1v14.3h-4.1zM1283.7 455.6h4.1v13.6h-4.1zM1293.2 454h4.1v9.6h-4.1zM1307.4 457.2h4.1v9.4h-4.1zM1316.9 457.2h4.1v8.8h-4.1zM1321.7 454.6h4.1v3h-4.1zM1326.4 453.6h4.1v3h-4.1zM1335.9 450h4.1v5.2h-4.1zM1340.7 440h4.1v11.2h-4.1zM1350.2 430.6h4.1v11.9h-4.1zM1359.7 427.6h4.1v24.4h-4.1zM1364.5 388.7h4.1v39.9h-4.1zM1369.2 361.8h4.1v27.9h-4.1zM1378.7 363.3h4.1v1.6h-4.1zM1383.5 330.9h4.1v33.3h-4.1zM1393 331.9h4.1v2.4h-4.1zM1407.2 339.8h4.1v3.6h-4.1zM1421.5 382.7h4.1v26.9h-4.1zM1431 384.7h4.1v6h-4.1zM1435.8 376.7h4.1v8.6h-4.1zM1445.3 361.8h4.1v17.5h-4.1zM1450 349.4h4.1v13.4h-4.1zM1454.8 320.9h4.1v28.9h-4.1zM1459.5 317.5h4.1v6.4h-4.1zM1464.3 305h4.1v12.9h-4.1zM1473.8 306.4h4.1v2.5h-4.1zM1478.5 262.6h4.1v43.9h-4.1zM1483.3 248.6h4.1v15.4h-4.1zM1497.5 255.6h4.1v4h-4.1zM1502.3 232h4.1v24h-4.1zM1507 211.8h4.1v20.9h-4.1zM1511.8 192.8h4.1v19.4h-4.1zM1530.8 198.8h4.1v9h-4.1zM1535.6 171.9h4.1v27.9h-4.1zM1540.3 168.9h4.1v4h-4.1zM1568.8 214.7h4.1v3h-4.1zM1573.6 204.8h4.1v10.9h-4.1zM1578.3 194.8h4.1v11h-4.1zM1592.6 137.9h4.1v76.1h-4.1zM1597.3 118.9h4.1v19.4h-4.1zM1602.1 113.9h4.1v9h-4.1zM1621.1 141.4h4.1v14h-4.1zM1630.6 153.3h4.1v1.6h-4.1zM1635.4 144.2h4.1v10h-4.1zM1649.6 147.8h4.1v10h-4.1zM1654.4 125.5h4.1v23.9h-4.1zM1678.1 212h4.1v4.6h-4.1zM1682.9 206h4.1v6.6h-4.1zM1687.6 190.7h4.1v15.9h-4.1zM1692.4 186h4.1v6h-4.1zM1716.2 254h4.1v5.3h-4.1zM1725.7 260.7h4.1v2h-4.1zM1744.7 287.6h4.1v12.4h-4.1zM1754.2 270h4.1v25.2h-4.1zM1758.9 269.2h4.1v1.6h-4.1zM1768.4 267.2h4.1v5.4h-4.1zM1797 300.5h4.1v7h-4.1zM1801.7 294h4.1v7h-4.1zM1806.5 284h4.1v11.6h-4.1zM1816 287.6h4.1v1.6h-4.1zM1820.7 250h4.1v39.2h-4.1zM1839.7 231.4h4.1v28.3h-4.1zM1849.2 229.4h4.1v11.3h-4.1zM1854 217.4h4.1v12.4h-4.1zM1858.7 214.2h4.1v3.6h-4.1zM1863.5 210.2h4.1v4.6h-4.1zM1868.3 208.8h4.1v2h-4.1zM1873 203.8h4.1v5.6h-4.1zM1882.5 250.7h4.1v9h-4.1zM1887.3 248.7h4.1v2h-4.1z"/>
<path fill="#ef3a4a" d="M14.7 483.5h4.1v9.5h-4.1zM19.5 493h4.1v69.7h-4.1zM24.2 561.7h4.1v35.9h-4.1zM29 595.6h4.1v12h-4.1zM38.5 629.9h4.1v30.9h-4.1zM48 656.8h4.1v20.5h-4.1zM62.2 646.8h4.1v3h-4.1zM71.7 642.2h4.1v30.6h-4.1zM76.5 671.8h4.1v16.5h-4.1zM90.7 677.3h4.1v6.4h-4.1zM114.5 548.4h4.1v45.2h-4.1zM124 586.6h4.1v12.6h-4.1zM133.5 595.2h4.1v16.4h-4.1zM138.3 611.2h4.1v73.5h-4.1zM147.8 680.7h4.1v3h-4.1zM157.3 682h4.1v57.6h-4.1zM162 738h4.1v4h-4.1zM209.6 681.8h4.1v20.9h-4.1zM214.3 700.7h4.1v5h-4.1zM233.3 678.8h4.1v4h-4.1zM238.1 680.8h4.1v2.6h-4.1zM257.1 668.2h4.1v9.2h-4.1zM266.6 669.8h4.1v6h-4.1zM271.3 674.8h4.1v32.9h-4.1zM280.8 703.7h4.1v15.9h-4.1zM285.6 719.2h4.1v7.4h-4.1zM299.9 704.7h4.1v34.9h-4.1zM309.4 734h4.1v4.6h-4.1zM314.1 736.6h4.1v2h-4.1zM337.9 685.3h4.1v8.4h-4.1zM356.9 678.4h4.1v7.3h-4.1zM361.6 685.3h4.1v36.7h-4.1zM366.4 715.7h4.1v6.9h-4.1zM375.9 710.7h4.1v4h-4.1zM380.7 712.7h4.1v2h-4.1zM385.4 714.7h4.1v20.5h-4.1zM390.2 734h4.1v23h-4.1zM399.7 750.5h4.1v4h-4.1zM404.4 752.5h4.1v4h-4.1zM413.9 734.6h4.1v8.9h-4.1zM423.4 704h4.1v16.6h-4.1zM428.2 719.2h4.1v5.4h-4.1zM432.9 723.2h4.1v8.4h-4.1zM437.7 730.6h4.1v14.4h-4.1zM456.7 708.6h4.1v6h-4.1zM475.7 642.2h4.1v26.2h-4.1zM480.5 667.8h4.1v20.9h-4.1zM490 676.7h4.1v9h-4.1zM494.7 684.7h4.1v7h-4.1zM499.5 690.7h4.1v12.6h-4.1zM523.2 668.8h4.1v7.9h-4.1zM542.2 609.2h4.1v14.8h-4.1zM551.8 612.6h4.1v9.4h-4.1zM561.3 600.6h4.1v8h-4.1zM570.8 588.6h4.1v1.6h-4.1zM594.5 566h4.1v7h-4.1zM623 547.9h4.1v14.9h-4.1zM627.8 562.4h4.1v12.6h-4.1zM642.1 566.4h4.1v9h-4.1zM646.8 575.4h4.1v8.6h-4.1zM651.6 584h4.1v8h-4.1zM661.1 586h4.1v4h-4.1zM670.6 579.3h4.1v5.4h-4.1zM680.1 569.3h4.1v2.4h-4.1zM708.6 495.7h4.1v27h-4.1zM741.9 472.2h4.1v2.6h-4.1zM760.9 467.7h4.1v1.6h-4.1zM765.6 468.8h4.1v3h-4.1zM770.4 471.4h4.1v15.4h-4.1zM775.1 486.8h4.1v3.4h-4.1zM789.4 478.8h4.1v24.9h-4.1zM803.6 479.8h4.1v3h-4.1zM822.7 426h4.1v18h-4.1zM832.2 429.5h4.1v2h-4.1zM836.9 432h4.1v6h-4.1zM841.7 437h4.1v5h-4.1zM846.4 440h4.1v4h-4.1zM851.2 443.5h4.1v16.5h-4.1zM855.9 458.9h4.1v25.9h-4.1zM860.7 483.8h4.1v5h-4.1zM865.4 488.2h4.1v7.5h-4.1zM870.2 494.7h4.1v11h-4.1zM879.7 492.2h4.1v6.5h-4.1zM884.4 497.7h4.1v7h-4.1zM893.9 485.9h4.1v10h-4.1zM903.5 493.5h4.1v14.7h-4.1zM917.7 489.9h4.1v2.4h-4.1zM927.2 490.9h4.1v16.9h-4.1zM932 506.8h4.1v27.9h-4.1zM936.7 534.1h4.1v3.6h-4.1zM946.2 536.1h4.1v10.6h-4.1zM955.7 545.3h4.1v16.4h-4.1zM965.2 530.8h4.1v9.9h-4.1zM970 540.1h4.1v14.6h-4.1zM974.7 552.7h4.1v2h-4.1zM998.5 526.2h4.1v21.9h-4.1zM1012.8 530.8h4.1v8.9h-4.1zM1027 521.8h4.1v14.9h-4.1zM1036.5 524.2h4.1v6.6h-4.1zM1041.3 529.8h4.1v34.2h-4.1zM1046 563.7h4.1v21.5h-4.1zM1055.5 574.6h4.1v2h-4.1zM1060.3 576.6h4.1v7.4h-4.1zM1074.6 567.6h4.1v34.4h-4.1zM1098.3 572h4.1v4h-4.1zM1107.8 551.7h4.1v41.9h-4.1zM1122.1 568h4.1v2.2h-4.1zM1126.8 569.6h4.1v54.9h-4.1zM1136.3 608h4.1v13.5h-4.1zM1145.8 613h4.1v3h-4.1zM1169.6 464.6h4.1v5h-4.1zM1174.4 451.2h4.1v8h-4.1zM1193.4 365.9h4.1v38.9h-4.1zM1198.1 404.8h4.1v9.9h-4.1zM1207.6 400.8h4.1v13.9h-4.1zM1212.4 413.7h4.1v31.6h-4.1zM1217.1 444.7h4.1v28.9h-4.1zM1236.1 441.7h4.1v23.9h-4.1zM1255.2 450.6h4.1v3h-4.1zM1274.2 432.7h4.1v50.8h-4.1zM1288.4 455.6h4.1v8.4h-4.1zM1297.9 454h4.1v4h-4.1zM1302.7 457.6h4.1v9h-4.1zM1312.2 454.6h4.1v7h-4.1zM1331.2 452.6h4.1v3h-4.1zM1345.5 439.3h4.1v4.7h-4.1zM1355 429.6h4.1v22.4h-4.1zM1374 362.2h4.1v3.6h-4.1zM1388.2 330.9h4.1v4h-4.1zM1397.7 332.3h4.1v7.5h-4.1zM1402.5 339.4h4.1v4h-4.1zM1412 339.8h4.1v8h-4.1zM1416.7 346.8h4.1v62.8h-4.1zM1426.2 382.7h4.1v8h-4.1zM1440.5 375.7h4.1v4h-4.1zM1469 305.6h4.1v3.9h-4.1zM1488 248.6h4.1v5h-4.1zM1492.8 252.6h4.1v8h-4.1zM1516.6 192.8h4.1v2.6h-4.1zM1521.3 194.8h4.1v13h-4.1zM1526.1 205.4h4.1v2h-4.1zM1545.1 168.9h4.1v2.6h-4.1zM1549.8 170.5h4.1v7.4h-4.1zM1554.6 176.3h4.1v1.6h-4.1zM1559.3 177.5h4.1v3.3h-4.1zM1564.1 180.2h4.1v37.5h-4.1zM1583.1 194.8h4.1v7.4h-4.1zM1587.8 201.8h4.1v11.9h-4.1zM1606.9 113.5h4.1v14.8h-4.1zM1611.6 126.9h4.1v3h-4.1zM1616.4 128.9h4.1v26.9h-4.1zM1625.9 141.4h4.1v14h-4.1zM1640.1 144.8h4.1v3h-4.1zM1644.9 146.8h4.1v11h-4.1zM1659.1 125.5h4.1v6.4h-4.1zM1663.9 130.9h4.1v25.9h-4.1zM1668.6 155.8h4.1v23.9h-4.1zM1673.4 178.7h4.1v37.9h-4.1zM1697.2 186h4.1v63.5h-4.1zM1701.9 248.4h4.1v1.6h-4.1zM1706.7 249.3h4.1v4.4h-4.1zM1711.4 252.7h4.1v6.6h-4.1zM1720.9 253.7h4.1v10h-4.1zM1730.4 261.3h4.1v8.3h-4.1zM1735.2 269.2h4.1v24.4h-4.1zM1739.9 292.6h4.1v7.4h-4.1zM1749.4 287.6h4.1v7.6h-4.1zM1763.7 269.6h4.1v4h-4.1zM1773.2 267.2h4.1v13.4h-4.1zM1777.9 279.2h4.1v8.8h-4.1zM1782.7 287.2h4.1v7.4h-4.1zM1787.5 293.6h4.1v2.6h-4.1zM1792.2 295.2h4.1v12.3h-4.1zM1811.2 284.6h4.1v6h-4.1zM1825.5 249.7h4.1v3.6h-4.1zM1830.2 252.7h4.1v4h-4.1zM1835 255.7h4.1v4.3h-4.1zM1844.5 231.4h4.1v9.9h-4.1zM1877.8 203.8h4.1v55.9h-4.1zM1892 249.3h4.1v11.4h-4.1zM1896.8 260.7h4.1v36.9h-4.1z"/>
</svg>
<div class="axis"><div class="pl" style="top:-14.1px">1.12500</div><div class="pl" style="top:48.1px">1.12000</div><div class="pl" style="top:110.3px">1.11500</div><div class="pl" style="top:234.8px">1.10500</div><div class="pl" style="top:297.1px">1.10000</div><div class="pl" style="top:359.3px">1.09500</div><div class="pl" style="top:421.5px">1.09000</div><div class="pl" style="top:483.8px">1.08500</div><div class="pl" style="top:546px">1.08000</div><div class="pl" style="top:608.3px">1.07500</div><div class="pl" style="top:670.5px">1.07000</div><div class="pl" style="top:732.7px">1.06500</div><div class="pl" style="top:795px">1.06000</div><div class="pl" style="top:857.2px">1.05500</div></div>
<div class="tag b">1.10859</div>
<div class="tag o">1.10813</div>
<div class="usd">USD<svg width="10" height="7" viewBox="0 0 10 7"><path d="M1.4 1.6L5 4.9l3.6-3.3" fill="none" stroke="#e6e6e6" stroke-width="1.7" stroke-linecap="round" stroke-linejoin="round"/></svg></div>

<svg style="position:absolute;left:10px;top:6px" width="32" height="30" viewBox="0 0 32 30">
 <defs><clipPath id="us"><circle cx="19.55" cy="10.2" r="8"/></clipPath></defs>
 <g clip-path="url(#us)">
  <rect x="10" y="1" width="20" height="19" fill="#f6f3f3"/>
  <g fill="#e4503f"><rect x="10" y="2.55" width="20" height="1.3"/><rect x="10" y="5.05" width="20" height="1.3"/><rect x="10" y="7.55" width="20" height="1.3"/><rect x="10" y="10.05" width="20" height="1.3"/><rect x="10" y="12.55" width="20" height="1.3"/><rect x="10" y="15.05" width="20" height="1.3"/><rect x="10" y="17.55" width="20" height="1.3"/></g>
  <rect x="10" y="1" width="11" height="10.4" fill="#4595ee"/>
  <g fill="#cfe6fb"><circle cx="14.2" cy="5.2" r=".55"/><circle cx="16.6" cy="4.2" r=".55"/><circle cx="19.0" cy="3.8" r=".55"/><circle cx="13.0" cy="7.6" r=".55"/><circle cx="15.4" cy="6.9" r=".55"/><circle cx="17.8" cy="6.4" r=".55"/><circle cx="12.6" cy="10.0" r=".55"/><circle cx="15.0" cy="9.4" r=".55"/><circle cx="17.4" cy="9.0" r=".55"/><circle cx="19.6" cy="8.6" r=".55"/><circle cx="19.8" cy="6.2" r=".55"/></g>
 </g>
 <circle cx="10.7" cy="18.7" r="10" fill="#10131f"/>
 <circle cx="10.7" cy="18.7" r="8.6" fill="#1f6bde"/>
 <g fill="#9fd8c4"><circle cx="10.70" cy="13.80" r=".7"/><circle cx="13.15" cy="14.46" r=".7"/><circle cx="14.94" cy="16.25" r=".7"/><circle cx="15.60" cy="18.70" r=".7"/><circle cx="14.94" cy="21.15" r=".7"/><circle cx="13.15" cy="22.94" r=".7"/><circle cx="10.70" cy="23.60" r=".7"/><circle cx="8.25" cy="22.94" r=".7"/><circle cx="6.46" cy="21.15" r=".7"/><circle cx="5.80" cy="18.70" r=".7"/><circle cx="6.46" cy="16.25" r=".7"/><circle cx="8.25" cy="14.46" r=".7"/></g>
</svg>
<div class="title">Euro / U.S. Dollar<span> · 4h · FXCM</span></div>
<div class="dot"><i></i></div>
<div class="ohlc" style="left:380px"><b>O</b>1.16179</div>
<div class="ohlc" style="left:476px"><b>H</b>1.16185</div>
<div class="ohlc" style="left:572.2px"><b>L</b>1.16075</div>
<div class="ohlc" style="left:665.2px"><b>C</b>1.16078</div>
<div class="lg" style="top:43px"><b>SMA</b><span> 20 close</span></div>
<div class="lg" style="top:76.5px"><b>SMA</b><span> 50 close</span></div>
<div class="btn"><svg width="14" height="9" viewBox="0 0 14 9"><path d="M2 6.8L7 2.1 12 6.8" fill="none" stroke="#d1d4dc" stroke-width="2" stroke-linecap="round" stroke-linejoin="round"/></svg></div>

<div class="logo"><svg width="46" height="16" viewBox="0 0 46 16"><path fill="#e3e4e6" d="M2.5 2.5H19V16H11.5V11H2.5z"/><circle cx="26" cy="6.3" r="4" fill="#e3e4e6"/><path fill="#e3e4e6" d="M36 2.5H44.6L38.8 16H30z"/></svg></div>
<div class="bline"></div>
</body>
</html>
